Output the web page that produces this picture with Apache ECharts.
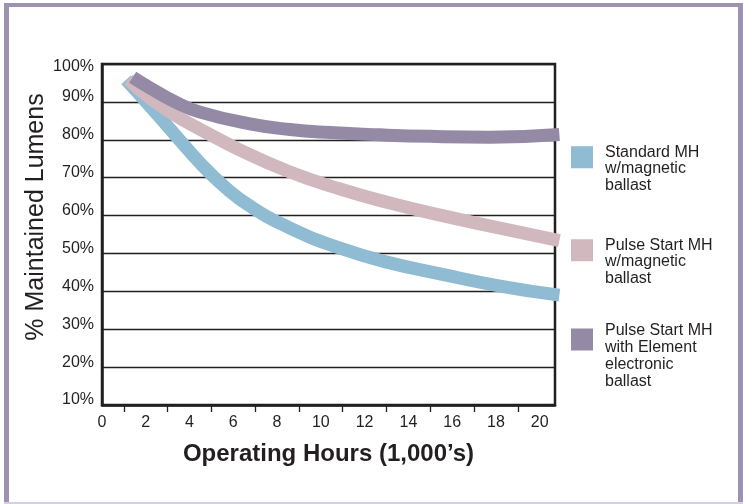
<!DOCTYPE html>
<html>
<head>
<meta charset="utf-8">
<script src="https://cdn.jsdelivr.net/npm/echarts@6/dist/echarts.min.js"></script>
<style>
html,body{margin:0;padding:0;background:#fff;}
#c{width:743px;height:504px;}
</style>
</head>
<body>
<div id="c"></div>
<script>
// Data (x = thousands of operating hours, y = % maintained lumens)
var seriesNames = ['Standard MH\nw/magnetic\nballast', 'Pulse Start MH\nw/magnetic\nballast', 'Pulse Start MH\nwith Element\nelectronic\nballast'];
var standardMH = [[1.1,95.8],[2.19,88.9],[3.34,81.3],[4.48,73.9],[5.62,67.5],[6.76,62.5],[8.59,56.7],[10.88,51.4],[13.16,47.5],[15.45,44.6],[18.19,41.4],[20.9,39.0]];
var pulseStartMH = [[1.2,95.9],[2.19,91.0],[3.34,86.5],[4.48,82.8],[6.31,77.3],[8.59,71.5],[10.88,67.0],[13.16,63.3],[15.45,60.1],[18.19,56.7],[20.9,53.4]];
var pulseStartElement = [[1.4,96.5],[2.19,93.7],[3.34,90.0],[4.48,87.3],[6.76,84.2],[8.59,82.7],[10.42,81.9],[12.71,81.3],[14.99,80.9],[17.73,80.7],[20.9,81.4]];
var xLabelValues = [0,2,4,6,8,10,12,14,16,18,20];
var xTickValues = [1,3,5,7,9,11,13,15,17,19];
var yTickValues = [10,20,30,40,50,60,70,80,90,100];

var colors = ['#8fbbd3', '#d1b7be', '#958aa6'];
var dark = '#231f20';
var font = 'Liberation Sans, Arial, Helvetica, sans-serif';

var chart = echarts.init(document.getElementById('c'), null, {renderer: 'canvas'});

// legend icon: a 22x22 square at the top of a taller (invisible) box so the text block sits lower
function legendFor(i, top, boxH, lh) {
  return {
    data: [seriesNames[i]],
    left: 571,
    top: top,
    padding: 0,
    icon: 'path://M0,0L22,0L22,22L0,22Z M0,' + boxH + 'L0.01,' + boxH,
    itemWidth: 22,
    itemHeight: boxH,
    selectedMode: false,
    itemStyle: {borderWidth: 0},
    textStyle: {
      fontFamily: font, fontSize: 16, color: dark, lineHeight: lh,
      padding: [0, 0, 0, 7]
    }
  };
}

var option = {
  animation: false,
  backgroundColor: '#fff',
  textStyle: {fontFamily: font},
  graphic: [
    {type: 'rect', shape: {x: 4, y: 3, width: 739, height: 4}, style: {fill: '#9d92b0'}},
    {type: 'rect', shape: {x: 4, y: 3, width: 5, height: 501}, style: {fill: '#9d92b0'}},
    {type: 'rect', shape: {x: 738, y: 3, width: 5, height: 501}, style: {fill: '#9d92b0'}},
    {type: 'rect', shape: {x: 4, y: 502, width: 739, height: 2}, style: {fill: '#d4d0dc'}},
    {type: 'text', x: 36, y: 217, rotation: Math.PI / 2,
     style: {text: '% Maintained Lumens', fontFamily: font, fontSize: 25, fill: dark,
             align: 'center', verticalAlign: 'middle'}}
  ],
  legend: [
    legendFor(0, 144, 45, 16.5),
    legendFor(1, 237, 45, 16.5),
    legendFor(2, 322, 55, 17)
  ],
  grid: {
    left: 102, right: 188, top: 64, bottom: 99,
    show: true, borderColor: dark, borderWidth: 2.5, backgroundColor: 'transparent'
  },
  xAxis: {
    type: 'value', min: 0, max: 20.7, interval: 2,
    name: 'Operating Hours (1,000’s)',
    nameLocation: 'middle', nameGap: 37,
    nameTextStyle: {fontFamily: font, fontSize: 24, fontWeight: 'bold', color: dark},
    axisLine: {show: true, lineStyle: {color: dark, width: 2.5}},
    axisTick: {show: true, customValues: xTickValues, length: 7, lineStyle: {color: dark, width: 1.3}},
    axisLabel: {
      customValues: xLabelValues, margin: 10,
      fontFamily: font, fontSize: 16, color: dark
    },
    splitLine: {show: false}
  },
  yAxis: {
    type: 'value', min: 10, max: 100, interval: 10,
    axisLine: {show: true, lineStyle: {color: dark, width: 2.5}},
    axisTick: {show: false},
    axisLabel: {
      customValues: yTickValues, margin: 8,
      formatter: function (v) { return v === 100 ? '{t|100%}' : '{n|' + v + '%}'; },
      rich: {
        n: {fontFamily: font, fontSize: 16, color: dark, padding: [0, 0, 10, 0]},
        t: {fontFamily: font, fontSize: 16, color: dark, padding: [6, 0, 0, 0]}
      }
    },
    splitLine: {show: true, lineStyle: {color: dark, width: 1.3}}
  },
  series: [
    {name: seriesNames[0], type: 'line', data: standardMH, smooth: true, showSymbol: false,
     color: colors[0], lineStyle: {width: 13, color: colors[0]}, z: 2},
    {name: seriesNames[1], type: 'line', data: pulseStartMH, smooth: true, showSymbol: false,
     color: colors[1], lineStyle: {width: 13, color: colors[1]}, z: 3},
    {name: seriesNames[2], type: 'line', data: pulseStartElement, smooth: true, showSymbol: false,
     color: colors[2], lineStyle: {width: 13, color: colors[2]}, z: 4}
  ]
};
chart.setOption(option);
</script>
</body>
</html>
